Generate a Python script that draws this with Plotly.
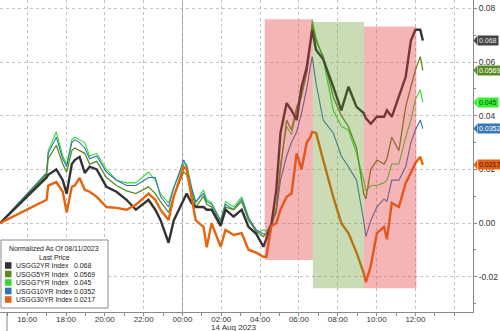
import plotly.graph_objects as go

# ---------------- data ----------------
times = [
    "2023-08-13 14:36", "2023-08-13 17:00", "2023-08-13 17:05", "2023-08-13 17:30", "2023-08-13 17:50",
    "2023-08-13 18:02", "2023-08-13 18:18", "2023-08-13 18:27", "2023-08-13 18:42", "2023-08-13 18:58",
    "2023-08-13 19:13", "2023-08-13 19:35", "2023-08-13 20:05", "2023-08-13 20:36", "2023-08-13 21:07",
    "2023-08-13 21:36", "2023-08-13 22:15", "2023-08-13 22:36", "2023-08-13 22:52", "2023-08-13 23:17",
    "2023-08-13 23:33", "2023-08-14 00:04", "2023-08-14 00:13", "2023-08-14 00:28", "2023-08-14 00:41",
    "2023-08-14 01:05", "2023-08-14 01:15", "2023-08-14 01:30", "2023-08-14 01:58", "2023-08-14 02:13",
    "2023-08-14 02:38", "2023-08-14 03:03", "2023-08-14 03:24", "2023-08-14 03:48", "2023-08-14 04:10",
    "2023-08-14 04:19", "2023-08-14 04:35", "2023-08-14 04:50", "2023-08-14 05:03", "2023-08-14 05:22",
    "2023-08-14 05:37", "2023-08-14 05:53", "2023-08-14 06:08", "2023-08-14 06:24", "2023-08-14 06:35",
    "2023-08-14 06:41", "2023-08-14 06:53", "2023-08-14 07:15", "2023-08-14 07:46", "2023-08-14 08:11",
    "2023-08-14 08:33", "2023-08-14 08:58", "2023-08-14 09:20", "2023-08-14 09:27", "2023-08-14 09:42",
    "2023-08-14 10:01", "2023-08-14 10:23", "2023-08-14 10:32", "2023-08-14 10:47", "2023-08-14 11:09",
    "2023-08-14 11:30", "2023-08-14 11:46", "2023-08-14 12:00", "2023-08-14 12:15", "2023-08-14 12:23",
]

usgg2yr = [
    0, .017, .018, .020, .016, .011, .022, .0235, .0247, .0187,
    .021, .020, .0135, .0117, .0087, .005, .0087, .005, .0012, -.0073,
    .001, .0087, .011, .0075, .006, .006, .005, .005, -.001, .005,
    .0024, .005, -.0014, -.004, -.0088, -.006, -.0003, .0124, .0336, .0447,
    .042, .0384, .0508, .058, .067, .072, .0645, .061, .0508, .042,
    .0508, .0433, .041, .039, .037, .0396, .0396, .042, .0396, .047,
    .0545, .068, .072, .072, .068,
]
usgg5yr = [
    0, .018, .024, .029, .022, .019, .027, .028, .027, .026,
    .022, .023, .017, .014, .012, .011, .0135, .011, .008, .004,
    .010, .019, .018, .011, .006, .010, .007, .006, .000, .006,
    .005, .008, .001, -.003, -.005, -.004, -.001, .005, .020, .0384,
    .0347, .0433, .048, .056, .066, .074, .068, .062, .047, .040,
    .036, .028, .011, .009, .020, .0235, .022, .024, .032, .027,
    .0433, .0508, .057, .062, .0569,
]
usgg7yr = [
    0, .0187, .027, .034, .025, .022, .031, .032, .031, .030,
    .025, .026, .020, .016, .015, .015, .019, .016, .011, .0075,
    .0135, .022, .022, .0135, .0075, .0124, .0087, .0075, .001, .008,
    .006, .0098, .0024, -.0037, -.0025, -.003, .000, .006, .022, .036,
    .033, .042, .047, .056, .067, .0757, .069, .061, .042, .036,
    .0347, .026, .016, .012, .014, .014, .015, .016, .022, .022,
    .032, .0384, .046, .0496, .045,
]
usgg10yr = [
    0, .0187, .026, .032, .024, .021, .030, .031, .030, .028,
    .024, .025, .019, .016, .014, .014, .017, .017, .010, .006,
    .013, .0235, .021, .013, .008, .011, .008, .007, .001, .007,
    .005, .009, .002, -.0025, -.004, -.004, -.0005, .004, .016, .025,
    .030, .034, .041, .050, .058, .062, .052, .0384, .0336, .025,
    .021, .016, .001, -.005, .001, .006, .009, .008, .016, .016,
    .021, .030, .0347, .0384, .0352,
]
usgg30yr = [
    0, .0087, .014, .0153, .0117, .004, .0135, .014, .0168, .0124,
    .0117, .0098, .006, .0057, .005, .0068, .011, .0087, .005, .0012,
    .0098, .021, .020, .0098, .001, -.0014, -.009, .000, -.0088, -.0025,
    -.0044, -.0037, -.0099, -.011, -.0125, -.0125, -.001, .000, .005, .0098,
    .011, .026, .020, .030, .032, .034, .0336, .0235, .0098, .000,
    -.0037, -.011, -.0185, -.022, -.016, -.0037, -.0014, -.006, .0075, .006,
    .015, .0187, .0224, .0247, .0217,
]

series_names = ["USGG2YR Index", "USGG5YR Index", "USGG7YR Index", "USGG10YR Index", "USGG30YR Index"]
last_values = [0.068, 0.0569, 0.045, 0.0352, 0.0217]
last_labels = ["0.068", "0.0569", "0.045", "0.0352", "0.0217"]

tick_times = ["2023-08-13 16:00", "2023-08-13 18:00", "2023-08-13 20:00", "2023-08-13 22:00",
              "2023-08-14 00:00", "2023-08-14 02:00", "2023-08-14 04:00", "2023-08-14 06:00",
              "2023-08-14 08:00", "2023-08-14 10:00", "2023-08-14 12:00", "2023-08-14 14:00"]
tick_text = ["16:00", "18:00", "20:00", "22:00", "00:00", "02:00", "04:00", "06:00",
             "08:00", "10:00", "12:00", ""]
y_ticks = [-0.02, 0.0, 0.02, 0.04, 0.06, 0.08]
y_tick_text = ["-0.02", "0.00", "0.02", "0.04", "0.06", "0.08"]

# shaded regions: start, end, low, high
shade_start = ["2023-08-14 04:14", "2023-08-14 06:43", "2023-08-14 09:21"]
shade_end = ["2023-08-14 06:43", "2023-08-14 09:21", "2023-08-14 12:03"]
shade_low = [-0.0137, -0.0243, -0.0243]
shade_high = [0.0759, 0.0749, 0.0732]

# ---------------- style ----------------
colors = ["#333333", "#5b8a25", "#2fdc2f", "#2f74b5", "#e8640c"]
widths = [2.4, 1.3, 1.1, 1.1, 2.4]
shade_colors = ["rgba(228,60,64,0.38)", "rgba(90,150,30,0.33)", "rgba(228,60,64,0.38)"]
label_font_colors = ["#e8e8e8", "white", "#145214", "white", "#3a1500"]
label_bg = ["#444444", "#5b8a25", "#33ee33", "#3a78b5", "#e8620e"]
FONT = "Liberation Sans"

W, H = 500, 331
ML, MR, MT, MB = 0, 27, 0, 19
PW, PH = W - ML - MR, H - MT - MB

def px(x):
    return x / PW

def py(y):
    return 1 - y / PH

fig = go.Figure()
all_series = [usgg2yr, usgg5yr, usgg7yr, usgg10yr, usgg30yr]
draw_order = [2, 3, 1, 0, 4]
for i in draw_order:
    fig.add_trace(go.Scatter(
        x=times, y=all_series[i], mode="lines", name=series_names[i],
        line=dict(color=colors[i], width=widths[i]), showlegend=False,
        hoverinfo="skip",
    ))

shapes = []
for s, e, lo, hi, c in zip(shade_start, shade_end, shade_low, shade_high, shade_colors):
    shapes.append(dict(type="rect", xref="x", yref="y", x0=s, x1=e, y0=lo, y1=hi,
                       fillcolor=c, line=dict(width=0), layer="above"))

# midnight separator
shapes.append(dict(type="line", xref="x", yref="paper", x0="2023-08-14 00:00", x1="2023-08-14 00:00",
                   y0=0, y1=1, line=dict(color="#9a9a9a", width=1), layer="below"))
# session separator tick below axis
shapes.append(dict(type="line", xref="paper", yref="paper", x0=px(7), x1=px(7), y0=0, y1=-MB / PH,
                   line=dict(color="#888888", width=1)))

annotations = []
# right-hand last value tags
h = 4.5 / 2687.5
for v, lab, bg, fc in zip(last_values, last_labels, label_bg, label_font_colors):
    shapes.append(dict(type="path", xref="paper", yref="y",
                       path=f"M {px(PW + 0.5)},{v} L {px(PW + 4)},{v + h} L {px(PW + 4)},{v - h} Z",
                       fillcolor=bg, line=dict(width=0)))
    annotations.append(dict(x=px(PW + 3.5), y=v, xref="paper", yref="y", text=lab, showarrow=False,
                            xanchor="left", yanchor="middle", bgcolor=bg, borderpad=1,
                            font=dict(size=7, color=fc, family=FONT)))

# legend box
LF = 6.9
shapes.append(dict(type="rect", xref="paper", yref="paper", x0=px(1), x1=px(108), y0=py(308), y1=py(240),
                   fillcolor="white", line=dict(color="#8a8a8a", width=1), layer="above"))
annotations.append(dict(x=px(54), y=py(248.5), xref="paper", yref="paper", text="Normalized As Of 08/11/2023",
                        showarrow=False, xanchor="center", yanchor="middle",
                        font=dict(size=LF, color="#222222", family=FONT)))
annotations.append(dict(x=px(54), y=py(257), xref="paper", yref="paper", text="Last Price",
                        showarrow=False, xanchor="center", yanchor="middle",
                        font=dict(size=LF, color="#222222", family=FONT)))
row_y = [265.5, 274, 282.5, 291, 299.5]
for ry, name, lab, c in zip(row_y, series_names, last_labels, colors):
    shapes.append(dict(type="rect", xref="paper", yref="paper", x0=px(5), x1=px(11.5),
                       y0=py(ry + 3.3), y1=py(ry - 3.3), fillcolor=c, line=dict(width=0), layer="above"))
    annotations.append(dict(x=px(13.5), y=py(ry), xref="paper", yref="paper", text=name, showarrow=False,
                            xanchor="left", yanchor="middle",
                            font=dict(size=LF, color="#222222", family=FONT)))
    annotations.append(dict(x=px(71.5), y=py(ry), xref="paper", yref="paper", text=lab, showarrow=False,
                            xanchor="left", yanchor="middle",
                            font=dict(size=LF, color="#222222", family=FONT)))

annotations.append(dict(x="2023-08-14 02:37", y=0, xref="x", yref="paper", text="14 Aug 2023",
                        showarrow=False, xanchor="center", yanchor="middle", yshift=-15,
                        font=dict(size=8, color="#333333", family=FONT)))

fig.update_layout(
    width=W, height=H, margin=dict(l=ML, r=MR, t=MT, b=MB),
    paper_bgcolor="white", plot_bgcolor="white",
    shapes=shapes, annotations=annotations, showlegend=False,
    font=dict(family=FONT, size=8, color="#333333"),
)
fig.update_xaxes(
    type="date", range=["2023-08-13 14:36", "2023-08-14 14:58"],
    tickvals=tick_times, ticktext=tick_text,
    showgrid=True, gridcolor="#c4c4c4", griddash="dot", gridwidth=1,
    showline=True, linecolor="#8a8a8a", linewidth=1,
    ticks="outside", ticklen=3, tickcolor="#8a8a8a", ticklabelstandoff=-4,
    minor=dict(ticks="outside", ticklen=3, tickcolor="#8a8a8a", dtick=3600000,
               tick0="2023-08-13 15:00", showgrid=False),
    tickfont=dict(size=8, color="#333333"), zeroline=False,
)
fig.update_yaxes(
    side="right", range=[-0.0331, 0.0831],
    tickvals=y_ticks, ticktext=y_tick_text,
    showgrid=True, gridcolor="#c4c4c4", griddash="dot", gridwidth=1,
    showline=True, linecolor="#8a8a8a", linewidth=1,
    ticks="outside", ticklen=3, tickcolor="#8a8a8a",
    minor=dict(ticks="outside", ticklen=2, tickcolor="#8a8a8a", dtick=0.01, showgrid=False),
    tickfont=dict(size=8.5, color="#333333"), zeroline=False,
)

fig.write_html("out.html")
